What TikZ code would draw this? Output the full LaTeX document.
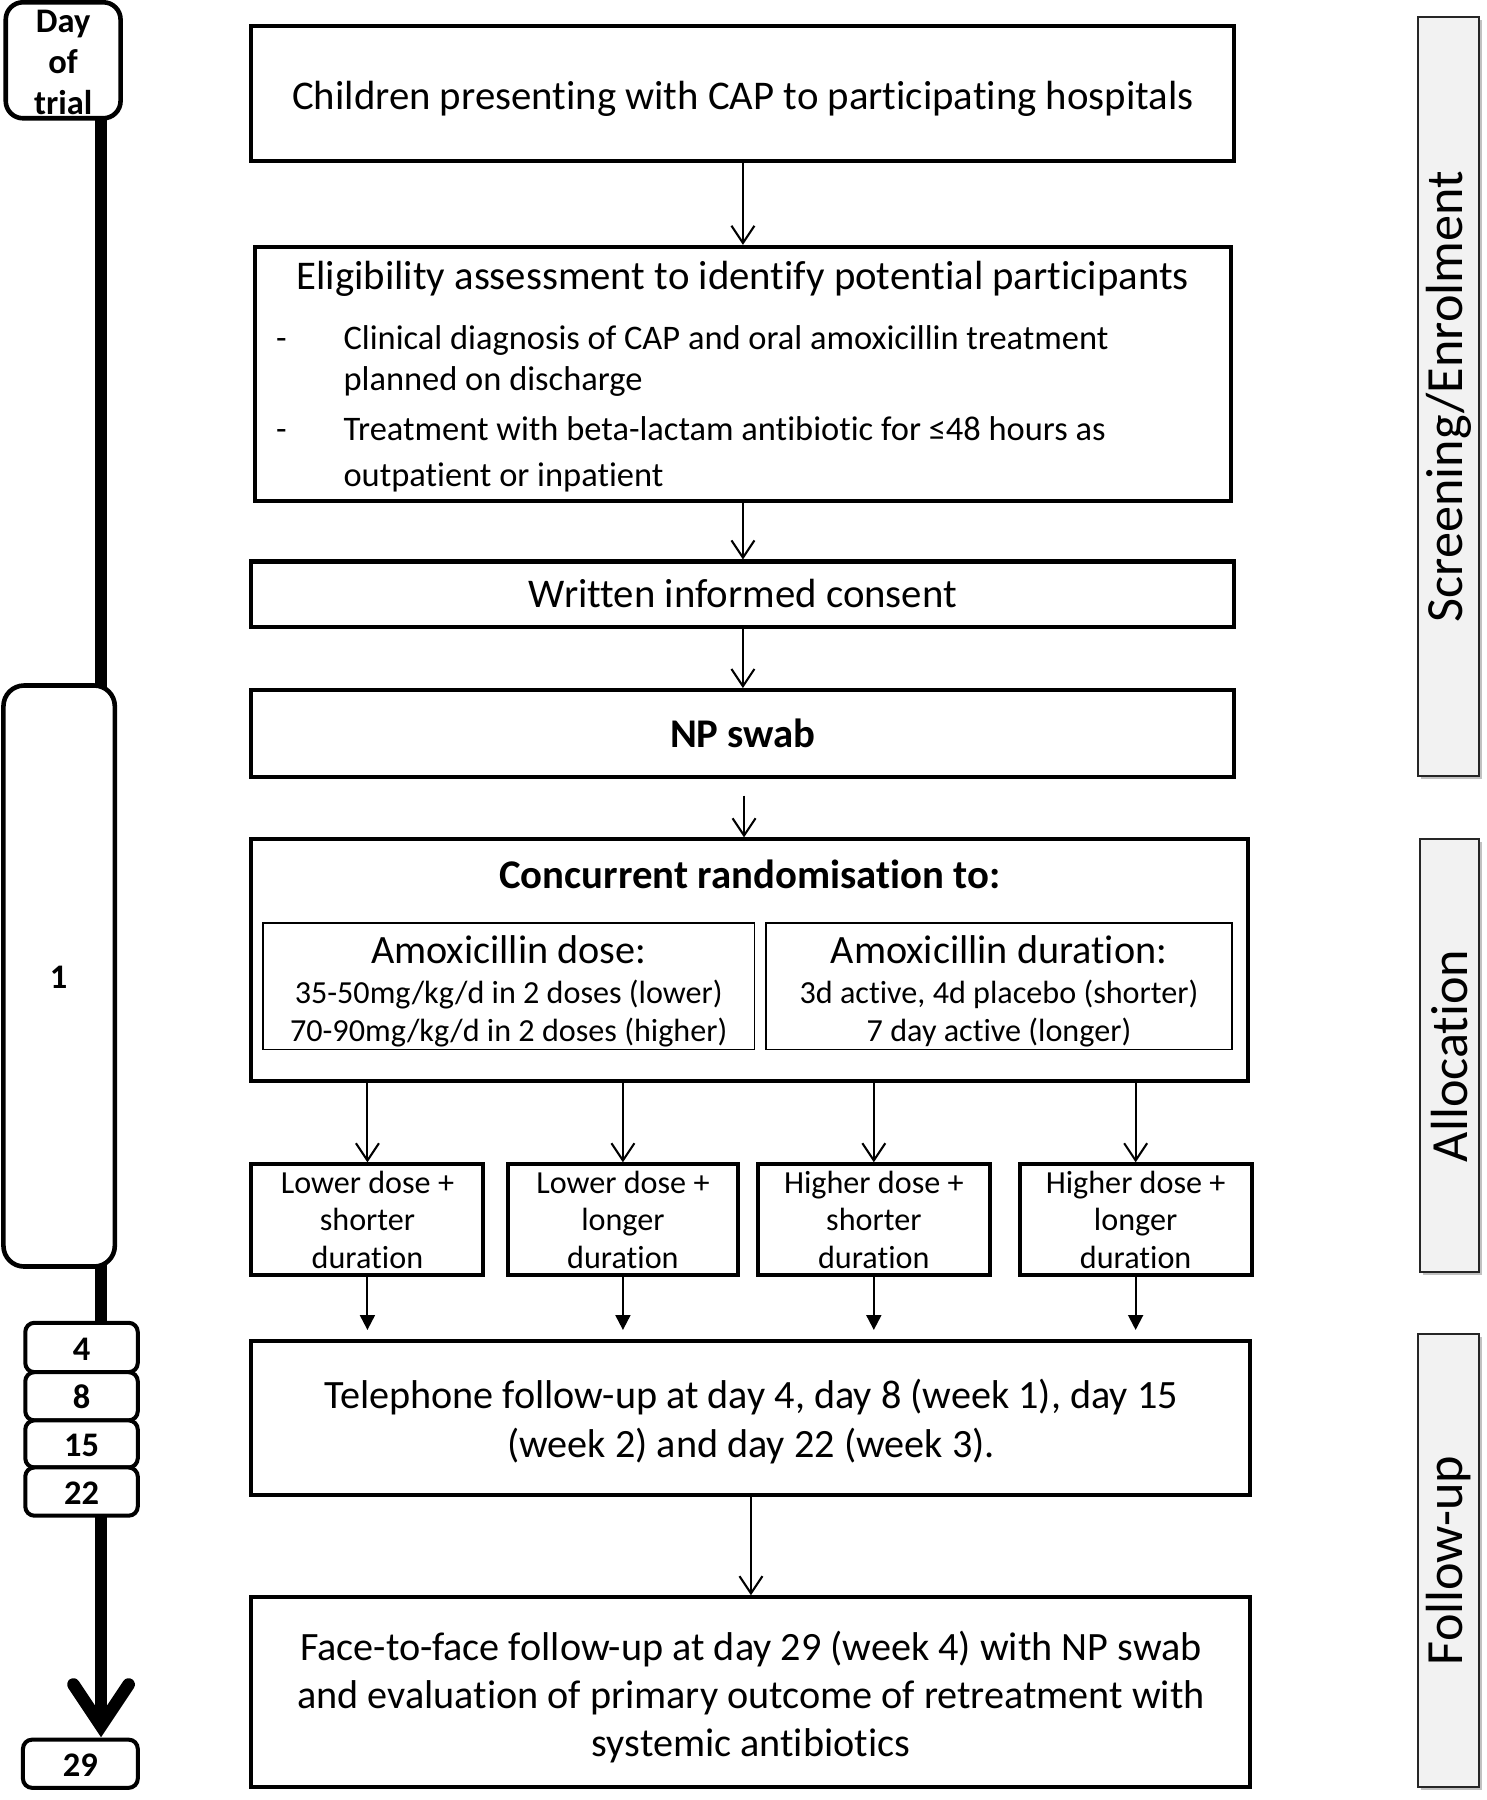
\documentclass[tikz,border=0pt]{standalone}
\usepackage{fontspec}
\setmainfont{Carlito}[Ligatures=CommonOff]
\usetikzlibrary{arrows.meta,shadows}
\begin{document}
\begin{tikzpicture}[x=1pt,y=-1pt,
  box/.style={draw, line width=3.5pt, inner sep=0, fill=white},
  subbox/.style={draw, line width=1.5pt, inner sep=0},
  rbox/.style={draw, line width=4pt, rounded corners=15pt, fill=white, inner sep=0},
  dbox/.style={draw, line width=3.5pt, rounded corners=8pt, fill=white, inner sep=0},
  sidebar/.style={draw=black!85, line width=1.8pt, fill=black!5, inner sep=0,
    drop shadow={shadow xshift=2.5pt, shadow yshift=-2.5pt, opacity=0.35, fill=black!70}},
  sidetext/.style={inner sep=0, rotate=90, font=\fontsize{45.5}{50}\selectfont},
  txt/.style={inner sep=0, anchor=base},
  txtw/.style={inner sep=0, anchor=base west},
  fbig/.style={font=\fontsize{35.5}{40}\selectfont},
  fbold/.style={font=\fontsize{35.5}{40}\selectfont\bfseries},
  fmid/.style={font=\fontsize{30}{36}\selectfont},
  fsub/.style={font=\fontsize{35}{40}\selectfont},
  fsmall/.style={font=\fontsize{28}{32}\selectfont},
  ftel/.style={font=\fontsize{35}{40}\selectfont},
  fday/.style={font=\fontsize{30}{36}\selectfont\bfseries},
  arr/.style={line width=1.8pt, -{Straight Barb[length=15pt,width=20pt]}},
  farr/.style={line width=1.8pt, -{Triangle[length=13pt,width=13pt]}},
  tline/.style={line width=11pt},
]
\useasboundingbox (0,0) rectangle (1295,1567.6);

% ---------- timeline ----------
\coordinate (tltop) at (88,100);
\coordinate (tltip) at (88,1503);
\coordinate (tlarmL) at (64,1467);
\coordinate (tlarmR) at (112,1467);
\draw[tline] (tltop) -- (tltip);
\draw[tline, line cap=round, line join=miter] (tlarmL) -- (tltip) -- (tlarmR);

\node[rbox, minimum width=100, minimum height=101] (day) at (55,52.5) {};
\node[txt, fday] (dayA) at (55,28) {Day};
\node[txt, fday] (dayB) at (55,64) {of};
\node[txt, fday] (dayC) at (55,100) {trial};

\node[rbox, rounded corners=18pt, minimum width=97, minimum height=506] (d1) at (51.5,850) {};
\node[txt, fday] (d1t) at (51,861) {1};

\node[dbox, minimum width=98, minimum height=43] (d4) at (71,1173.5) {};
\node[dbox, minimum width=98, minimum height=42] (d8) at (71,1216) {};
\node[dbox, minimum width=98, minimum height=41] (d15) at (71,1257.5) {};
\node[dbox, minimum width=98, minimum height=42] (d22) at (71,1299) {};
\node[txt, fday] (d4t) at (71,1185) {4};
\node[txt, fday] (d8t) at (71,1227) {8};
\node[txt, fday] (d15t) at (71,1268) {15};
\node[txt, fday] (d22t) at (71,1310) {22};

\node[dbox, minimum width=100, minimum height=42] (d29) at (70,1536) {};
\node[txt, fday] (d29t) at (70,1547) {29};

% ---------- side bars ----------
\node[sidebar, minimum width=53, minimum height=661] (sb1) at (1261.5,345.5) {};
\node[sidetext] (sb1t) at (sb1.center) {Screening/Enrolment};
\node[sidebar, minimum width=51, minimum height=377] (sb2) at (1262.5,919.5) {};
\node[sidetext] (sb2t) at (sb2.center) {Allocation};
\node[sidebar, minimum width=53, minimum height=394] (sb3) at (1261.5,1359) {};
\node[sidetext] (sb3t) at (sb3.center) {Follow-up};

% ---------- main boxes ----------
\node[box, minimum width=856, minimum height=117] (c1) at (647,81.5) {};
\node[txt, fbig] (c1t) at (647,95) {Children presenting with CAP to participating hospitals};

\node[box, minimum width=850, minimum height=221] (elig) at (647,325.5) {};
\node[txt, fbig] (eligt) at (647,252) {Eligibility assessment to identify potential participants};
\node[txt, fmid] (eligd1) at (245,304) {-};
\node[txtw, fmid] (eligb1a) at (299,304) {Clinical diagnosis of CAP and oral amoxicillin treatment};
\node[txtw, fmid] (eligb1b) at (299,340) {planned on discharge};
\node[txt, fmid] (eligd2) at (245,384) {-};
\node[txtw, fmid] (eligb2a) at (299,384) {Treatment with beta-lactam antibiotic for ≤48 hours as};
\node[txtw, fmid] (eligb2b) at (299,424) {outpatient or inpatient};

\node[box, minimum width=856, minimum height=57] (cons) at (647,517.5) {};
\node[txt, fbig] (const) at (647,529) {Written informed consent};

\node[box, minimum width=856, minimum height=76] (np) at (647,639) {};
\node[txt, fbold] (npt) at (647,651) {NP swab};

\node[box, minimum width=868, minimum height=210] (rand) at (653,836) {};
\node[txt, fbold] (randt) at (653,774) {Concurrent randomisation to:};
\node[subbox, minimum width=428, minimum height=110] (dose) at (443,859) {};
\node[txt, fsub] (doset) at (443,839) {Amoxicillin dose:};
\node[txt, fsmall] (dosea) at (443,874) {35-50mg/kg/d in 2 doses (lower)};
\node[txt, fsmall] (doseb) at (443,907) {70-90mg/kg/d in 2 doses (higher)};
\node[subbox, minimum width=406, minimum height=110] (dur) at (870,859) {};
\node[txt, fsub] (durt) at (870,839) {Amoxicillin duration:};
\node[txt, fsmall] (dura) at (870,874) {3d active, 4d placebo (shorter)};
\node[txt, fsmall] (durb) at (870,907) {7 day active (longer)};

\node[box, minimum width=202, minimum height=96] (g1) at (320,1062) {};
\node[box, minimum width=201, minimum height=96] (g2) at (542.5,1062) {};
\node[box, minimum width=202, minimum height=96] (g3) at (761,1062) {};
\node[box, minimum width=202, minimum height=96] (g4) at (989,1062) {};
\node[txt, fsmall] (g1a) at (320,1039) {Lower dose +};
\node[txt, fsmall] (g1b) at (320,1072) {shorter};
\node[txt, fsmall] (g1c) at (320,1105) {duration};
\node[txt, fsmall] (g2a) at (542.5,1039) {Lower dose +};
\node[txt, fsmall] (g2b) at (542.5,1072) {longer};
\node[txt, fsmall] (g2c) at (542.5,1105) {duration};
\node[txt, fsmall] (g3a) at (761,1039) {Higher dose +};
\node[txt, fsmall] (g3b) at (761,1072) {shorter};
\node[txt, fsmall] (g3c) at (761,1105) {duration};
\node[txt, fsmall] (g4a) at (989,1039) {Higher dose +};
\node[txt, fsmall] (g4b) at (989,1072) {longer};
\node[txt, fsmall] (g4c) at (989,1105) {duration};

\node[box, minimum width=870, minimum height=134] (tel) at (654,1235) {};
\node[txt, ftel] (tela) at (654,1227) {Telephone follow-up at day 4, day 8 (week 1), day 15};
\node[txt, ftel] (telb) at (654,1269) {(week 2) and day 22 (week 3).};

\node[box, minimum width=870, minimum height=165] (face) at (654,1473.5) {};
\node[txt, ftel] (facea) at (654,1446) {Face-to-face follow-up at day 29 (week 4) with NP swab};
\node[txt, ftel] (faceb) at (654,1488) {and evaluation of primary outcome of retreatment with};
\node[txt, ftel] (facec) at (654,1530) {systemic antibiotics};

% ---------- connectors ----------
\draw[arr] (c1.south) -- (elig.north);
\draw[arr] (elig.south) -- (cons.north);
\draw[arr] (cons.south) -- (np.north);
\coordinate (npgap) at (648,693);
\draw[arr] (npgap) -- (npgap |- rand.north);
\foreach \g in {g1,g2,g3,g4}{
  \draw[arr] (\g.north |- rand.south) -- (\g.north);
  \draw[farr, shorten >=8pt] (\g.south) -- (\g.south |- tel.north);
}
\draw[arr] (tel.south) -- (face.north);
\end{tikzpicture}
\end{document}
